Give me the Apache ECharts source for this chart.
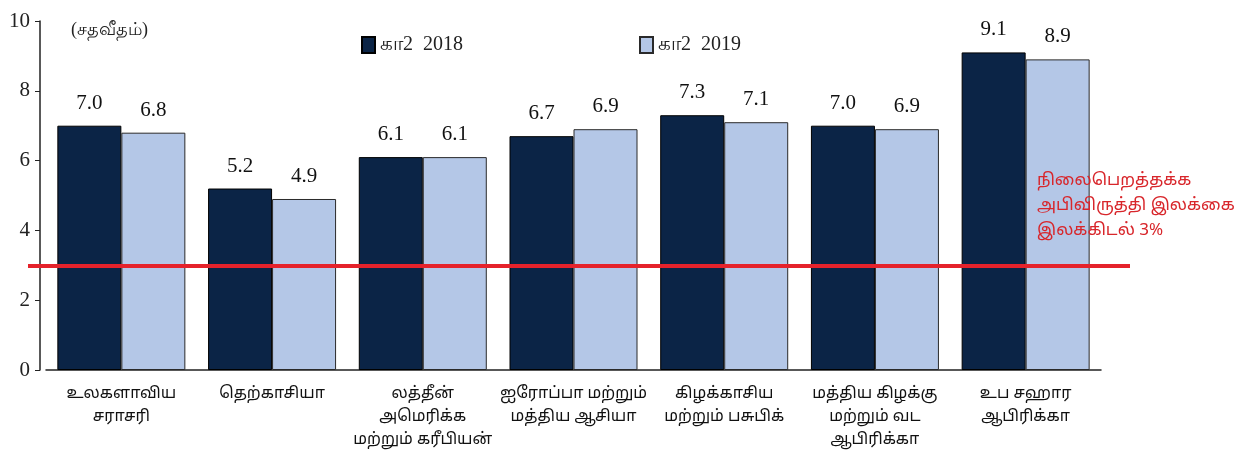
<!DOCTYPE html>
<html>
<head>
<meta charset="utf-8">
<script src="https://cdn.jsdelivr.net/npm/echarts@6/dist/echarts.min.js"></script>
<style>
  html, body { margin: 0; padding: 0; background: #fff; }
  #main { width: 1238px; height: 457px; }
</style>
</head>
<body>
<div id="main"></div>
<script>
// வகைகள் (பிராந்தியங்கள்)
var categories = [
    'உலகளாவிய\nசராசரி',
    'தெற்காசியா',
    'லத்தீன்\nஅமெரிக்க\nமற்றும் கரீபியன்',
    'ஐரோப்பா மற்றும்\nமத்திய ஆசியா',
    'கிழக்காசிய\nமற்றும் பசுபிக்',
    'மத்திய கிழக்கு\nமற்றும் வட\nஆபிரிக்கா',
    'உப சஹார\nஆபிரிக்கா'
];
var q2018 = [7.0, 5.2, 6.1, 6.7, 7.3, 7.0, 9.1];
var q2019 = [6.8, 4.9, 6.1, 6.9, 7.1, 6.9, 8.9];
var targetValue = 3;
var yTicks = {min: 0, max: 10, interval: 2};

var serif = 'Liberation Serif';
var tamil = '"Noto Sans Tamil", "Noto Sans", sans-serif';

var myChart = echarts.init(document.getElementById('main'));

var option = {
    backgroundColor: '#ffffff',
    animation: false,
    title: [
        {
            text: '(சதவீதம்)',
            left: 66,
            top: 16,
            textStyle: {color: '#222', fontSize: 18, fontWeight: 'normal', fontFamily: serif}
        },
        {
            text: 'நிலைபெறத்தக்க\nஅபிவிருத்தி இலக்கை\nஇலக்கிடல் 3%',
            left: 1032,
            top: 164,
            textStyle: {color: '#d8262b', fontSize: 17, fontWeight: 'normal', fontFamily: tamil, lineHeight: 25}
        }
    ],
    legend: [
        {
            data: ['கா2  2018'],
            left: 356,
            top: 30,
            icon: 'rect',
            itemWidth: 13,
            itemHeight: 16,
            textStyle: {color: '#222', fontSize: 20, fontFamily: serif}
        },
        {
            data: ['கா2  2019'],
            left: 634,
            top: 30,
            icon: 'rect',
            itemWidth: 13,
            itemHeight: 16,
            textStyle: {color: '#222', fontSize: 20, fontFamily: serif}
        }
    ],
    grid: {
        left: 46,
        right: 137,
        top: 21,
        bottom: 87
    },
    xAxis: {
        type: 'category',
        data: categories,
        axisLine: {lineStyle: {color: '#222', width: 1.5}},
        axisTick: {show: false},
        axisLabel: {
            interval: 0,
            color: '#111',
            fontSize: 16,
            lineHeight: 23,
            margin: 13,
            fontFamily: tamil
        }
    },
    yAxis: {
        type: 'value',
        min: yTicks.min,
        max: yTicks.max,
        interval: yTicks.interval,
        offset: 6,
        axisLine: {show: true, lineStyle: {color: '#222', width: 1.5}},
        axisTick: {show: true, inside: false, length: 5, lineStyle: {color: '#222'}},
        splitLine: {show: false},
        axisLabel: {
            color: '#222',
            fontSize: 21,
            fontFamily: serif,
            margin: 10
        }
    },
    series: [
        {
            name: 'கா2  2018',
            type: 'bar',
            data: q2018,
            barWidth: 64,
            barGap: '0%',
            itemStyle: {color: '#0b2446', borderColor: '#000', borderWidth: 1},
            label: {
                show: true,
                position: 'top',
                distance: 12,
                color: '#111',
                fontSize: 21,
                fontFamily: serif,
                formatter: function (p) { return p.value.toFixed(1); }
            },
            markLine: {
                silent: true,
                symbol: 'none',
                label: {show: false},
                lineStyle: {color: '#e5222b', width: 4, type: 'solid'},
                data: [[{x: 28, yAxis: targetValue}, {x: 1130, yAxis: targetValue}]]
            }
        },
        {
            name: 'கா2  2019',
            type: 'bar',
            data: q2019,
            barWidth: 64,
            itemStyle: {color: '#b4c7e7', borderColor: '#2a2a2a', borderWidth: 1},
            label: {
                show: true,
                position: 'top',
                distance: 12,
                color: '#111',
                fontSize: 21,
                fontFamily: serif,
                formatter: function (p) { return p.value.toFixed(1); }
            }
        }
    ]
};

myChart.setOption(option);
</script>
</body>
</html>
